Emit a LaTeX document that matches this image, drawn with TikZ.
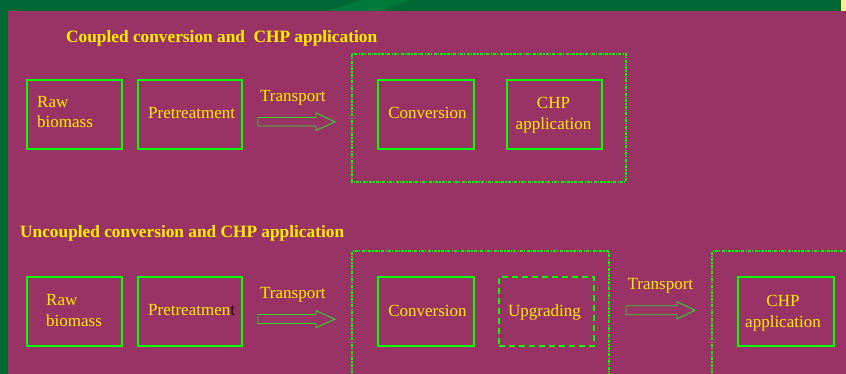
\documentclass[tikz,border=0pt]{standalone}
\usepackage{fontspec}
\setmainfont{Liberation Serif}
\definecolor{bgpurple}{RGB}{153,51,102}
\definecolor{bandgreen}{RGB}{0,102,51}
\definecolor{streak}{RGB}{0,122,58}
\definecolor{linegreen}{RGB}{0,255,0}
\definecolor{arrowgreen}{RGB}{40,220,40}
\definecolor{txtyellow}{RGB}{255,238,0}
\definecolor{cornerlight}{RGB}{255,238,153}
\tikzset{
  x=1pt, y=-1pt,
  procbox/.style={draw=linegreen, line width=1.7pt},
  dashbox/.style={draw=linegreen, line width=1.7pt, dash pattern=on 6pt off 4pt},
  groupbox/.style={draw=linegreen, line width=1.7pt, dash pattern=on 3pt off 1.2pt on 1.2pt off 1.2pt},
  blockarrow/.style={draw=arrowgreen, line width=0.9pt},
  txt/.style={text=txtyellow, inner sep=0pt, font=\fontsize{17}{20.5}\selectfont},
  title/.style={text=txtyellow, inner sep=0pt, font=\fontsize{17.3}{20}\selectfont\bfseries},
}
\begin{document}
\begin{tikzpicture}
\useasboundingbox (0,0) rectangle (846,374);
% background
\fill[bgpurple] (0,0) rectangle (846,374);
\fill[bandgreen] (0,0) rectangle (846,11);
\fill[bandgreen] (0,0) rectangle (8,374);
\fill[streak] (330,11) -- (360,0) -- (410,0) -- (380,11) -- cycle;
\fill[cornerlight] (841,0) rectangle (846,11);

% titles
\node[title, anchor=base west] (t1) at (66,43) {Coupled conversion and\ \ CHP application};
\node[title, anchor=base west] (t2) at (20,237.5) {Uncoupled conversion and CHP application};

% ---------- row 1 ----------
\draw[groupbox] (352,54) rectangle (626,182);
\node[procbox, anchor=north west, minimum width=95, minimum height=69] (raw1) at (26,79) {};
\node[procbox, anchor=north west, minimum width=104, minimum height=69] (pre1) at (137,79) {};
\node[procbox, anchor=north west, minimum width=96, minimum height=69] (conv1) at (377,79) {};
\node[procbox, anchor=north west, minimum width=95, minimum height=69] (chp1) at (506,79) {};

\node[txt, anchor=base west, align=left] (rawt1) at (37,128) {Raw\\biomass};
\node[txt, anchor=base west] (pret1) at (148,118.5) {Pretreatment};
\node[txt, anchor=base west] (trt1) at (260,101.7) {Transport};
\node[txt, anchor=base] (convt1) at (427.5,119) {Conversion};
\node[txt, anchor=base, align=center] (chpt1) at (553.5,129.3) {CHP\\application};

\draw[blockarrow] (258,117.5) -- (316,117.5) -- (316,113) -- (335,121.8)
  -- (316,130.5) -- (316,126) -- (258,126) -- cycle;

% ---------- row 2 ----------
\draw[groupbox] (352,380) -- (352,251) -- (609,251) -- (609,380);
\draw[groupbox] (712,380) -- (712,251) -- (850,251);
\node[procbox, anchor=north west, minimum width=95, minimum height=69] (raw2) at (26,276) {};
\node[procbox, anchor=north west, minimum width=104, minimum height=69] (pre2) at (137,276) {};
\node[procbox, anchor=north west, minimum width=96, minimum height=69] (conv2) at (377,276) {};
\node[dashbox, anchor=north west, minimum width=95, minimum height=69] (upg2) at (498,276) {};
\node[procbox, anchor=north west, minimum width=96, minimum height=69] (chp2) at (737,276) {};

\node[txt, anchor=base west, align=left] (rawt2) at (46,326) {Raw\\biomass};
\node[txt, anchor=base west] (pret2) at (148,315.7) {Pretreatmen\textcolor{black!85!bgpurple}{t}};
\node[txt, anchor=base west] (trt2) at (260,298.3) {Transport};
\node[txt, anchor=base] (convt2) at (427.5,316) {Conversion};
\node[txt, anchor=base] (upgt2) at (544.5,316) {Upgrading};
\node[txt, anchor=base west] (trt3) at (627.5,289.3) {Transport};
\node[txt, anchor=base, align=center] (chpt2) at (783,327.3) {CHP\\application};

\draw[blockarrow] (258,314.5) -- (316,314.5) -- (316,310.7) -- (335,319.2)
  -- (316,327.7) -- (316,323.5) -- (258,323.5) -- cycle;
\draw[blockarrow] (626,305.7) -- (677,305.7) -- (677,301.7) -- (695,310.3)
  -- (677,319) -- (677,314.7) -- (626,314.7) -- cycle;
\end{tikzpicture}
\end{document}
